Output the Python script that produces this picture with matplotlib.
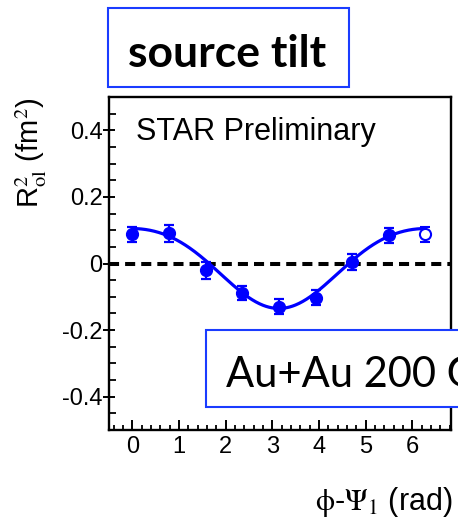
import numpy as np
import matplotlib
matplotlib.use("Agg")
import matplotlib.pyplot as plt
from matplotlib.patches import Rectangle
from matplotlib.ticker import MultipleLocator, FixedLocator

plt.rcParams['font.family'] = ['Liberation Sans', 'DejaVu Sans']
plt.rcParams['mathtext.fontset'] = 'stix'

# R^2_ol versus azimuthal angle relative to the first-order event plane
phi = [0.0, 0.785, 1.571, 2.356, 3.142, 3.927, 4.712, 5.498]
r2_ol = [0.088, 0.091, -0.021, -0.089, -0.130, -0.103, 0.004, 0.085]
r2_err = [0.023, 0.026, 0.025, 0.022, 0.022, 0.022, 0.024, 0.022]

# reflected point at 2*pi (open symbol)
phi_open = [6.283]
r2_open = [0.088]
err_open = [0.022]

# Fourier fit: a0 + c1*cos(phi) + c2*cos(2*phi)
fit_a0 = -0.003
fit_c1 = 0.120
fit_c2 = -0.012

x_ticks = [0, 1, 2, 3, 4, 5, 6]
y_ticks = [-0.4, -0.2, 0.0, 0.2, 0.4]
y_ticklabels = ['-0.4', '-0.2', '0', '0.2', '0.4']

W, H = 458, 524
fig = plt.figure(figsize=(W / 100, H / 100), dpi=100)
ax = fig.add_axes([109 / W, 1 - 430 / H, 342 / W, 333 / H])

blue = '#0000ff'

ax.axhline(0, color='black', lw=2.9, dashes=(2.5, 1.5), zorder=2)

xs = np.linspace(0, 2 * np.pi, 400)
ax.plot(xs, fit_a0 + fit_c1 * np.cos(xs) + fit_c2 * np.cos(2 * xs),
        color=blue, lw=2.3, zorder=3)

ax.errorbar(phi, r2_ol, yerr=r2_err, fmt='o', color=blue, ms=8.5,
            elinewidth=1.6, capsize=3.4, capthick=1.6, zorder=4)
ax.errorbar(phi_open, r2_open, yerr=err_open, fmt='o', color=blue,
            mfc='white', mec=blue, mew=1.5, ms=8.0,
            elinewidth=1.6, capsize=3.4, capthick=1.6, zorder=4)

ax.set_xlim(-0.5, 6.83)
ax.set_ylim(-0.5, 0.5)
ax.xaxis.set_major_locator(FixedLocator(x_ticks))
ax.xaxis.set_minor_locator(MultipleLocator(0.2))
ax.set_yticks(y_ticks)
ax.set_yticklabels(y_ticklabels)
ax.yaxis.set_minor_locator(MultipleLocator(0.05))

for s in ax.spines.values():
    s.set_linewidth(1.7)

ax.tick_params(axis='x', which='major', direction='in', length=7.5, width=1.4,
               labelsize=17, pad=4)
ax.tick_params(axis='x', which='minor', direction='in', length=3.8, width=1.3)
ax.tick_params(axis='y', which='major', direction='inout', length=9, width=1.4,
               labelsize=17, pad=0)
ax.tick_params(axis='y', which='minor', direction='in', length=5, width=1.3)

ax.text(0.08, 0.895, 'STAR Preliminary', transform=ax.transAxes,
        fontsize=22, ha='left', va='center')

ax.set_ylabel(r'R$^{2}_{\mathrm{ol}}$ (fm$^{2}$)', fontsize=21, loc='top')
ax.yaxis.set_label_coords(-0.175, 1.0)
ax.set_xlabel(r'$\mathrm{\phi}$-$\Psi_{1}$ (rad)', fontsize=22, loc='right')
ax.xaxis.set_label_coords(1.005, -0.165)

box_blue = '#1a3cff'
fig.add_artist(Rectangle((108 / W, 1 - 87 / H), 241 / W, 79 / H,
                         transform=fig.transFigure, facecolor='white',
                         edgecolor=box_blue, lw=1.5, zorder=5))
fig.text(227 / W, 1 - 67 / H, 'source tilt', fontsize=32, fontweight='bold',
         family=['Lato', 'DejaVu Sans'], ha='center', va='baseline', zorder=6)

fig.add_artist(Rectangle((206 / W, 1 - 407 / H), 300 / W, 77 / H,
                         transform=fig.transFigure, facecolor='white',
                         edgecolor=box_blue, lw=1.5, zorder=5))
fig.text(226 / W, 1 - 387 / H, 'Au+Au 200 GeV', fontsize=30,
         family=['Lato', 'DejaVu Sans'], ha='left', va='baseline', zorder=6)

fig.savefig('out.png', dpi=100)
